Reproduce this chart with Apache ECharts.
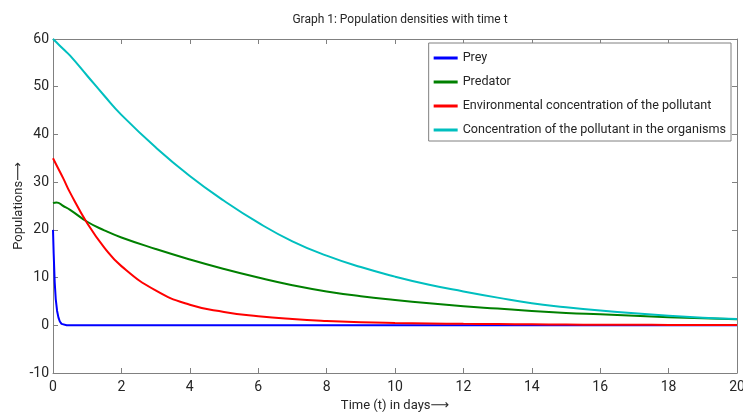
<!DOCTYPE html>
<html>
<head>
<meta charset="utf-8">
<script src="https://cdn.jsdelivr.net/npm/echarts@6/dist/echarts.min.js"></script>
<style>
  html, body { margin: 0; padding: 0; background: #fff; }
  #chart { width: 743px; height: 415px; }
</style>
</head>
<body>
<div id="chart"></div>
<script>
// time points (days) for predator / pollutant curves
const timeDays = [0, 0.1, 0.3, 0.5, 1, 1.5, 2, 3, 4, 5, 6, 7, 8, 9, 10, 11, 12, 13, 14, 15, 16, 17, 18, 19, 20]
const predator = [25.6, 25.75, 25.0, 24.2, 21.7, 19.9, 18.4, 16.0, 13.8, 11.8, 10.0, 8.4, 7.1, 6.1, 5.3, 4.6, 4.0, 3.5, 3.0, 2.6, 2.3, 2.0, 1.7, 1.45, 1.25]
const envPollutant = [35, 33.6, 30.8, 27.8, 21.4, 16.3, 12.4, 7.3, 4.3, 2.8, 1.9, 1.3, 0.9, 0.65, 0.5, 0.4, 0.3, 0.25, 0.2, 0.15, 0.12, 0.1, 0.08, 0.06, 0.05]
const orgPollutant = [60, 59.3, 57.9, 56.5, 52.3, 48.1, 44.1, 37.3, 31.3, 26.1, 21.5, 17.6, 14.6, 12.2, 10.2, 8.5, 7.1, 5.8, 4.6, 3.8, 3.1, 2.5, 2.0, 1.6, 1.3]
// prey drops very fast, so it gets its own time points
const preyTime = [0, 0.02, 0.05, 0.08, 0.12, 0.16, 0.2, 0.25, 0.3, 0.4, 1, 5, 10, 15, 20]
const prey = [20, 15, 9, 5.5, 3, 1.6, 0.8, 0.3, 0.1, 0, 0, 0, 0, 0, 0]

const seriesNames = ['Prey', 'Predator', 'Environmental concentration of the pollutant', 'Concentration of the pollutant in the organisms']
const colors = ['#0000ff', '#008000', '#ff0000', '#00bfbf']

const font = "Roboto, 'DejaVu Sans', sans-serif"
const axisGray = '#808080'
const textColor = '#262626'

function pairs(xs, ys) {
  return xs.map((x, i) => [x, ys[i]])
}

function makeLine(idx, data, smooth) {
  return {
    name: seriesNames[idx],
    type: 'line',
    xAxisIndex: 0,
    yAxisIndex: 0,
    data: data,
    smooth: smooth,
    showSymbol: false,
    lineStyle: { color: colors[idx], width: 2 },
    itemStyle: { color: colors[idx] },
    z: 2 + idx
  }
}

const chart = echarts.init(document.getElementById('chart'))
chart.setOption({
  animation: false,
  backgroundColor: '#fff',
  title: {
    text: 'Graph 1: Population densities with time t',
    left: 395,
    textAlign: 'center',
    top: 9,
    textStyle: { fontFamily: font, fontSize: 12, fontWeight: 'normal', color: textColor }
  },
  grid: { left: 53, right: 6, top: 39, bottom: 42, outerBoundsMode: 'none' },
  legend: {
    data: seriesNames,
    orient: 'vertical',
    align: 'left',
    right: 12,
    top: 43,
    padding: [7, 5, 3, 5],
    itemGap: 8,
    itemWidth: 24,
    itemHeight: 3,
    icon: 'rect',
    backgroundColor: '#fff',
    borderColor: axisGray,
    borderWidth: 1,
    borderRadius: 0,
    textStyle: { fontFamily: font, fontSize: 12.6, color: textColor, lineHeight: 16 }
  },
  xAxis: [{
    type: 'value',
    min: 0,
    max: 20,
    interval: 2,
    name: 'Time (t) in days\u27f6',
    nameLocation: 'middle',
    nameGap: 26,
    nameMoveOverlap: false,
    nameTextStyle: { fontFamily: font, fontSize: 13, color: textColor },
    axisLine: { onZero: false, lineStyle: { color: axisGray } },
    axisTick: { inside: true, length: 5, lineStyle: { color: axisGray } },
    axisLabel: { fontFamily: font, fontSize: 14, color: textColor, margin: 7 },
    splitLine: { show: false }
  }, {
    type: 'value',
    position: 'top',
    min: 0,
    max: 20,
    interval: 2,
    axisLine: { onZero: false, lineStyle: { color: axisGray } },
    axisTick: { inside: true, length: 5, lineStyle: { color: axisGray } },
    axisLabel: { show: false },
    splitLine: { show: false }
  }],
  yAxis: [{
    type: 'value',
    min: -10,
    max: 60,
    interval: 10,
    name: 'Populations\u27f6',
    nameLocation: 'middle',
    nameGap: 28,
    nameMoveOverlap: false,
    nameTextStyle: { fontFamily: font, fontSize: 13, color: textColor },
    axisLine: { show: true, onZero: false, lineStyle: { color: axisGray } },
    axisTick: { show: true, inside: true, length: 5, lineStyle: { color: axisGray } },
    axisLabel: { fontFamily: font, fontSize: 14, color: textColor, margin: 4 },
    splitLine: { show: false }
  }, {
    type: 'value',
    position: 'right',
    min: -10,
    max: 60,
    interval: 10,
    axisLine: { show: true, onZero: false, lineStyle: { color: axisGray } },
    axisTick: { show: true, inside: true, length: 5, lineStyle: { color: axisGray } },
    axisLabel: { show: false },
    splitLine: { show: false }
  }],
  series: [
    makeLine(0, pairs(preyTime, prey), false),
    makeLine(1, pairs(timeDays, predator), true),
    makeLine(2, pairs(timeDays, envPollutant), true),
    makeLine(3, pairs(timeDays, orgPollutant), true)
  ]
})
</script>
</body>
</html>
